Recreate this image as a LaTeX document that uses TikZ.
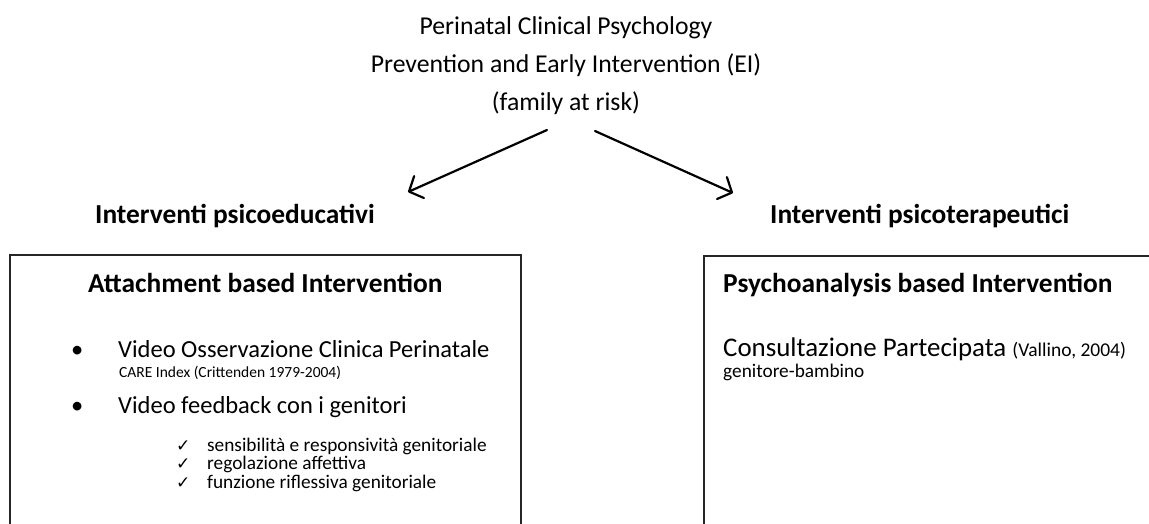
\documentclass[tikz,border=0pt]{standalone}
\usepackage{fontspec}
\setmainfont{Carlito}
\newfontfamily\symfont{DejaVu Sans}
\usetikzlibrary{arrows.meta,calc}

\begin{document}
\begin{tikzpicture}[x=1pt,y=-1pt]
  \tikzset{
    title/.style={font=\fontsize{25.7}{30}\selectfont, anchor=base, inner sep=0pt},
    heading/.style={font=\fontsize{27.4}{32}\selectfont\bfseries, anchor=base west, inner sep=0pt},
    item/.style={font=\fontsize{24.5}{30}\selectfont, anchor=base west, inner sep=0pt},
    small/.style={font=\fontsize{15.5}{19}\selectfont, anchor=base west, inner sep=0pt},
    check/.style={font=\fontsize{19.3}{23}\selectfont, anchor=base west, inner sep=0pt},
    tick/.style={font=\symfont\fontsize{17}{20}\selectfont, anchor=base west, inner sep=0pt},
    frame/.style={line width=2pt, draw=black!85},
    branch/.style={line width=2.2pt, line cap=round, -{Straight Barb[length=11pt,width=24pt,round]}}
  }
  \clip (0,0) rectangle (1149,524);

  % Title
  \node[title] (title1) at (566,35) {Perinatal Clinical Psychology};
  \node[title] (title2) at (566,73) {Prevention and Early Intervention (EI)};
  \node[title] (title3) at (566,111) {(family at risk)};

  % Two kinds of intervention
  \node[heading] (psyed) at (95,223) {Interventi psicoeducativi};
  \node[heading] (psyther) at (770,223) {Interventi psicoterapeutici};
  \coordinate (lefttip) at (408,192);
  \coordinate (righttip) at (733,193);
  \draw[branch] ($(title3.base)+(-19,19)$) -- (lefttip);
  \draw[branch] ($(title3.base)+(29,20)$) -- (righttip);

  % Boxes
  \draw[frame] (10,255) rectangle (521,560);
  \draw[frame] (704,256) rectangle (1180,560);

  % Left box
  \node[heading] (attach) at (88,292) {Attachment based Intervention};
  \node[item] (dot1) at (71,357) {\textbullet};
  \node[item] (video) at (118,357) {Video Osservazione Clinica Perinatale};
  \node[small] (care) at (119,377) {CARE Index (Crittenden 1979-2004)};
  \node[item] (dot2) at (71,413) {\textbullet};
  \node[item] (feedback) at (118,413) {Video feedback con i genitori};
  \node[tick] (tick1) at (176,451) {✓};
  \node[check] (sens) at (207,451) {sensibilità e responsività genitoriale};
  \node[tick] (tick2) at (176,469) {✓};
  \node[check] (regol) at (207,469) {regolazione affettiva};
  \node[tick] (tick3) at (176,488) {✓};
  \node[check] (funz) at (207,488) {funzione riflessiva genitoriale};

  % Right box
  \node[heading] (psychoan) at (723,292) {Psychoanalysis based Intervention};
  \node[item, font=\fontsize{26.9}{32}\selectfont] (consult) at (723,356) {Consultazione Partecipata {\fontsize{19.5}{22}\selectfont(Vallino, 2004)}};
  \node[check] (pair) at (723,377) {genitore-bambino};
\end{tikzpicture}
\end{document}
